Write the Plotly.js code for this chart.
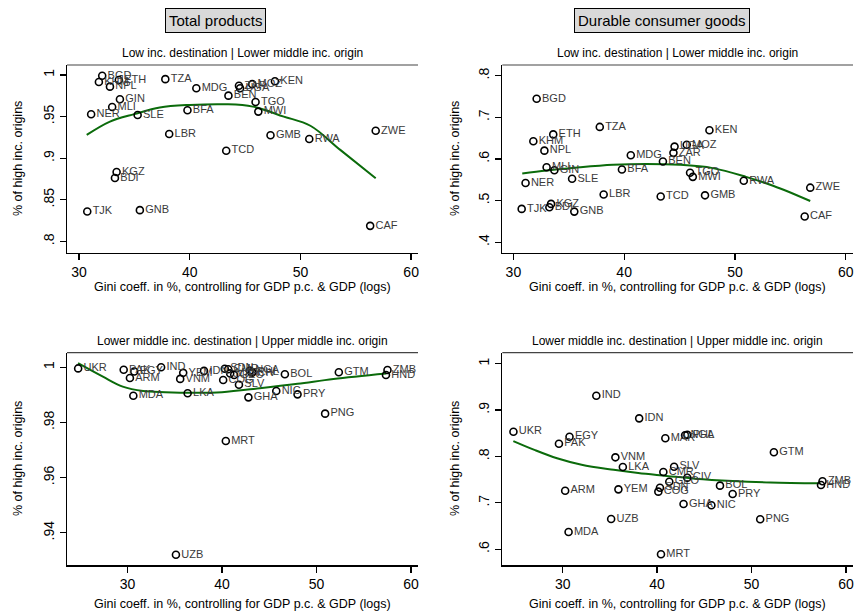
<!DOCTYPE html>
<html>
<head>
<meta charset="utf-8">
<script src="https://cdn.plot.ly/plotly-3.0.1.min.js"></script>
<style>html,body{margin:0;padding:0;background:#fff;}#chart{width:856px;height:614px;}</style>
</head>
<body>
<div id="chart"></div>
<script>
// Group A: low income destination | lower middle income origin
const namesA = ["BGD","KHM","ETH","NPL","GIN","MLI","NER","SLE","TZA","MDG","BEN","BFA","LBR","TCD","KGZ","BDI","ZAR","UGA","MOZ","KEN","TGO","MWI","GMB","RWA","ZWE","TJK","GNB","CAF"];
const giniA  = [32.1,31.8,33.6,32.8,33.7,33.0,31.1,35.3,37.8,40.6,43.5,39.8,38.15,43.3,33.4,33.25,44.45,44.55,45.65,47.7,45.95,46.2,47.3,50.8,56.8,30.75,35.5,56.3];
const totalA = [0.999,0.9916,0.994,0.986,0.9708,0.9616,0.9528,0.952,0.995,0.984,0.9752,0.9576,0.929,0.909,0.8835,0.8763,0.987,0.984,0.989,0.9924,0.9676,0.956,0.9276,0.923,0.933,0.836,0.8376,0.8187];
const durableA = [0.7446,0.6427,0.659,0.620,0.5728,0.580,0.5422,0.5524,0.677,0.6088,0.594,0.5745,0.5145,0.5096,0.492,0.484,0.6147,0.6297,0.634,0.669,0.567,0.557,0.5126,0.5475,0.531,0.480,0.4735,0.4617];

// Group B: lower middle income destination | upper middle income origin
const namesB = ["UKR","PAK","EGY","IND","ARM","YEM","VNM","IDN","MDA","LKA","UZB","MRT","SDN","COG","CMR","MAR","GEO","SLV","NGA","PHL","CIV","GHA","NIC","BOL","PRY","GTM","PNG","ZMB","HND"];
const giniB  = [24.78,29.6,30.72,33.56,30.26,35.9,35.58,38.1,30.62,36.37,35.13,40.41,40.3,40.13,40.66,40.87,41.29,41.8,42.96,43.2,43.2,42.8,45.75,46.66,48.0,52.37,50.92,57.52,57.36];
const totalB = [0.9996,0.9991,0.9985,1.0,0.9961,0.998,0.9958,0.9987,0.9897,0.9906,0.932,0.9733,0.9995,0.9954,0.9993,0.9978,0.9972,0.9937,0.9988,0.9983,0.998,0.9891,0.9914,0.9975,0.9902,0.9982,0.9832,0.999,0.9972];
const durableB = [0.8532,0.8274,0.8425,0.9308,0.726,0.729,0.798,0.882,0.637,0.7772,0.665,0.589,0.7325,0.724,0.7664,0.839,0.7455,0.7778,0.8455,0.8465,0.754,0.6974,0.6946,0.737,0.719,0.8088,0.6644,0.7463,0.7384];

// Smoothed fit lines
const fit1X = [30.7,32.8,35.0,37.3,40.0,43.3,45.7,48.5,50.9,53.6,56.8];
const fit1Y = [0.928,0.944,0.953,0.961,0.964,0.9648,0.962,0.950,0.939,0.910,0.876];
const fit2X = [30.8,33.0,36.0,39.0,42.0,45.0,48.0,51.0,53.5,56.8];
const fit2Y = [0.565,0.572,0.580,0.586,0.588,0.586,0.578,0.557,0.535,0.499];
const fit3X = [24.77,27.4,29.5,31.65,34.0,37.0,40.0,44.0,48.0,51.8,57.4];
const fit3Y = [1.0015,0.9966,0.993,0.9914,0.991,0.9908,0.991,0.9924,0.994,0.9958,0.9978];
const fit4X = [24.77,27.0,29.4,32.0,35.4,38.0,41.0,44.0,48.0,52.0,57.3];
const fit4Y = [0.833,0.814,0.796,0.782,0.771,0.764,0.758,0.752,0.747,0.744,0.742];

const xTicks = [30,40,50,60];
const yTicks1 = [0.8,0.85,0.9,0.95,1], yText1 = [".8",".85",".9",".95","1"];
const yTicks2 = [0.4,0.5,0.6,0.7,0.8], yText2 = [".4",".5",".6",".7",".8"];
const yTicks3 = [0.94,0.96,0.98,1], yText3 = [".94",".96",".98","1"];
const yTicks4 = [0.6,0.7,0.8,0.9,1], yText4 = [".6",".7",".8",".9","1"];

const FONT = "Liberation Sans, Arial, Helvetica, sans-serif";
const W = 856, H = 614;
const px = v => v / W, py = v => 1 - v / H;

function pts(x, y, names, xa, ya) {
  return {x: x, y: y, text: names, xaxis: xa, yaxis: ya, type: 'scatter', mode: 'markers+text',
    textposition: 'middle right', cliponaxis: false,
    textfont: {family: FONT, size: 11, color: '#3a3a3a'},
    marker: {symbol: 'circle-open', size: 7, color: 'black', line: {width: 1.6, color: 'black'}},
    hoverinfo: 'none', showlegend: false};
}
function fit(x, y, xa, ya) {
  return {x: x, y: y, xaxis: xa, yaxis: ya, type: 'scatter', mode: 'lines',
    line: {color: '#0b6b0b', width: 2, shape: 'spline'}, hoverinfo: 'none', showlegend: false};
}

const data = [
  fit(fit1X, fit1Y, 'x', 'y'), pts(giniA, totalA, namesA, 'x', 'y'),
  fit(fit2X, fit2Y, 'x2', 'y2'), pts(giniA, durableA, namesA, 'x2', 'y2'),
  fit(fit3X, fit3Y, 'x3', 'y3'), pts(giniB, totalB, namesB, 'x3', 'y3'),
  fit(fit4X, fit4Y, 'x4', 'y4'), pts(giniB, durableB, namesB, 'x4', 'y4')
];

function xax(dom, range, anchor) {
  return {domain: dom, range: range, anchor: anchor, tickvals: xTicks, ticktext: xTicks.map(String),
    showgrid: false, zeroline: false, showline: true, linecolor: 'black', linewidth: 1.3,
    ticks: 'outside', ticklen: 6, tickwidth: 1.3, tickcolor: 'black',
    tickfont: {family: FONT, size: 14, color: 'black'}};
}
function yax(dom, range, anchor, tv, tt) {
  return {domain: dom, range: range, anchor: anchor, tickvals: tv, ticktext: tt, tickangle: -90,
    showgrid: false, zeroline: false, showline: true, linecolor: 'black', linewidth: 1.3,
    ticks: 'outside', ticklen: 6, tickwidth: 1.3, tickcolor: 'black',
    tickfont: {family: FONT, size: 14, color: 'black'}};
}

const dL = [px(67), px(418)], dR = [px(502.3), px(853)];
const dT = [py(252.5), py(65)], dB = [py(565.3), py(352.7)];

const ann = [];
function addText(text, x, y, size, extra) {
  ann.push(Object.assign({text: text, x: px(x), y: py(y), xref: 'paper', yref: 'paper', showarrow: false,
    xanchor: 'center', yanchor: 'middle', font: {family: FONT, size: size, color: 'black'}}, extra || {}));
}
addText('Total products', 215, 20, 15, {bgcolor: '#d9d9d9', bordercolor: 'black', borderwidth: 1, borderpad: 3});
addText('Durable consumer goods', 662, 20, 15, {bgcolor: '#d9d9d9', bordercolor: 'black', borderwidth: 1, borderpad: 3});
addText('Low inc. destination | Lower middle inc. origin', 242.5, 53, 12);
addText('Low inc. destination | Lower middle inc. origin', 677.5, 53, 12);
addText('Lower middle inc. destination | Upper middle inc. origin', 242.5, 341, 12);
addText('Lower middle inc. destination | Upper middle inc. origin', 677.5, 341, 12);
addText('Gini coeff. in %, controlling for GDP p.c. & GDP (logs)', 242.5, 287, 12.5);
addText('Gini coeff. in %, controlling for GDP p.c. & GDP (logs)', 677.5, 287, 12.5);
addText('Gini coeff. in %, controlling for GDP p.c. & GDP (logs)', 242.5, 604, 12.5);
addText('Gini coeff. in %, controlling for GDP p.c. & GDP (logs)', 677.5, 604, 12.5);
addText('% of high inc. origins', 18, 159, 12.5, {textangle: -90});
addText('% of high inc. origins', 455, 159, 12.5, {textangle: -90});
addText('% of high inc. origins', 18, 459, 12.5, {textangle: -90});
addText('% of high inc. origins', 455, 459, 12.5, {textangle: -90});

const shapes = [['x','y'],['x2','y2'],['x3','y3'],['x4','y4']].map(([xa, ya]) => ({
  type: 'line', xref: xa + ' domain', yref: ya + ' domain', x0: 0, x1: 1, y0: 1, y1: 1,
  line: {color: '#444', width: 1.2}
}));

const layout = {
  width: W, height: H, margin: {l: 0, r: 0, t: 0, b: 0},
  paper_bgcolor: 'white', plot_bgcolor: 'white', showlegend: false,
  font: {family: FONT},
  xaxis: xax(dL, [28.92, 60.62], 'y'),
  yaxis: yax(dT, [0.7867, 1.012], 'x', yTicks1, yText1),
  xaxis2: xax(dR, [29.0, 60.66], 'y2'),
  yaxis2: yax(dT, [0.3752, 0.8258], 'x2', yTicks2, yText2),
  xaxis3: xax(dL, [23.6, 60.75], 'y3'),
  yaxis3: yax(dB, [0.9282, 1.0053], 'x3', yTicks3, yText3),
  xaxis4: xax(dR, [23.6, 60.75], 'y4'),
  yaxis4: yax(dB, [0.5653, 1.0235], 'x4', yTicks4, yText4),
  annotations: ann, shapes: shapes
};

Plotly.newPlot('chart', data, layout, {displayModeBar: false, staticPlot: true});
</script>
</body>
</html>
